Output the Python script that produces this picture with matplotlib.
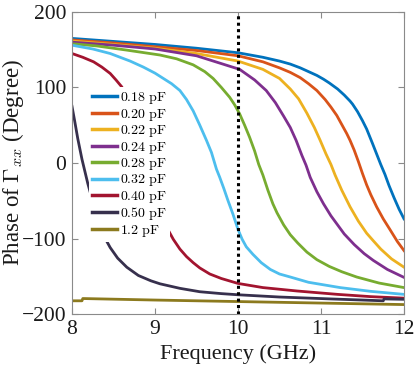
import matplotlib
matplotlib.use("Agg")
import matplotlib.pyplot as plt

plt.rcParams['mathtext.fontset'] = 'cm'
plt.rcParams['font.family'] = ['Liberation Serif', 'DejaVu Serif']

labels = ['0.18 pF', '0.20 pF', '0.22 pF', '0.24 pF', '0.28 pF',
          '0.32 pF', '0.40 pF', '0.50 pF', '1.2 pF']
colors = ['#0072BD', '#D95319', '#EDB120', '#7E2F8E', '#77AC30',
          '#4DBEEE', '#A2142F', '#37304d', '#8c7a1e']

f_018 = [8.0, 8.5, 9.0, 9.5, 10.0, 10.3, 10.5, 10.63, 10.75, 10.85, 10.95, 11.03, 11.1, 11.2, 11.28, 11.35, 11.38, 11.44, 11.5, 11.55, 11.62, 11.67, 11.72, 11.77, 11.82, 11.88, 11.94, 12.0]
p_018 = [165, 161, 157, 152, 146, 140, 135, 131, 126, 121, 116, 111, 106, 98, 90, 82, 78, 68, 56, 45, 26, 12, -2, -15, -30, -46, -61, -74]

f_020 = [8.0, 8.5, 9.0, 9.5, 10.0, 10.3, 10.5, 10.63, 10.75, 10.85, 10.95, 11.05, 11.12, 11.19, 11.27, 11.31, 11.35, 11.4, 11.45, 11.5, 11.55, 11.6, 11.67, 11.75, 11.83, 11.92, 12.0]
p_020 = [163, 159, 154, 149, 142, 134, 126, 120, 113, 105, 96, 84, 74, 63, 47, 39, 30, 17, 2, -14, -29, -42, -58, -74, -88, -104, -116]

f_022 = [8.0, 8.5, 9.0, 9.5, 10.0, 10.3, 10.5, 10.63, 10.73, 10.83, 10.92, 10.99, 11.06, 11.12, 11.17, 11.25, 11.35, 11.45, 11.55, 11.63, 11.72, 11.85, 12.0]
p_022 = [161.5, 157, 152, 145, 135, 124, 112, 98, 85, 66, 47, 30, 12, -2, -16, -36, -58, -77, -93, -103, -114, -127, -138]

f_024 = [8.0, 8.5, 9.0, 9.5, 10.02, 10.2, 10.34, 10.45, 10.55, 10.63, 10.7, 10.77, 10.82, 10.87, 10.95, 11.03, 11.12, 11.2, 11.28, 11.4, 11.52, 11.63, 11.8, 12.0]
p_024 = [160, 156, 151, 142, 124, 110, 96, 80, 62, 47, 30, 10, -3, -19, -38, -54, -70, -82, -94, -108, -120, -129, -141, -151.5]

f_028 = [8.0, 8.3, 8.66, 9.06, 9.26, 9.46, 9.6, 9.7, 9.8, 9.9, 9.96, 10.02, 10.08, 10.14, 10.2, 10.25, 10.3, 10.36, 10.42, 10.47, 10.55, 10.63, 10.72, 10.83, 10.95, 11.1, 11.25, 11.43, 11.7, 12.0]
p_028 = [158, 155, 149.5, 143, 138, 130, 121, 112, 100, 87, 77, 65, 50, 34, 16, -2, -16, -36, -54, -66, -82, -95, -106, -118, -128, -137, -144, -151, -159, -165]

f_032 = [8.0, 8.25, 8.46, 8.7, 8.86, 9.0, 9.1, 9.2, 9.3, 9.38, 9.46, 9.54, 9.62, 9.68, 9.74, 9.78, 9.83, 9.88, 9.94, 10.0, 10.05, 10.1, 10.18, 10.28, 10.39, 10.5, 10.63, 10.85, 11.23, 11.6, 12.0]
p_032 = [156, 151, 145, 135, 127, 119, 112, 105, 96, 84, 69, 50, 30, 14, -8, -19, -34, -50, -68, -88, -101, -111, -121, -132, -141, -147, -151, -158, -165, -170, -174]

f_040 = [8.0, 8.13, 8.26, 8.36, 8.46, 8.53, 8.6, 8.7, 8.8, 8.9, 9.0, 9.07, 9.14, 9.22, 9.3, 9.38, 9.46, 9.54, 9.66, 9.8, 10.0, 10.3, 10.71, 11.2, 11.6, 12.0]
p_040 = [145, 140, 134, 127, 118.6, 110, 100.8, 80, 45, 0, -45, -68, -85, -101, -114, -124, -132, -139, -147, -153, -159.5, -165, -169.5, -174, -177, -179]

f_050 = [8.0, 8.03, 8.07, 8.12, 8.19, 8.26, 8.33, 8.4, 8.46, 8.55, 8.66, 8.8, 8.95, 9.06, 9.3, 9.54, 9.8, 10.0, 10.5, 11.11, 11.5, 11.75, 11.76, 12.0]
p_050 = [75, 57, 32, 5, -27, -55, -80, -100, -112, -126, -138, -149, -156, -160, -166, -170.5, -173, -174.5, -177.5, -180, -181.5, -182.5, -180, -180.5]

f_120 = [8.0, 8.12, 8.13, 9.0, 10.0, 11.0, 12.0]
p_120 = [-182.5, -182.5, -179.5, -181.5, -183.5, -185.5, -187.5]

freqs = [f_018, f_020, f_022, f_024, f_028, f_032, f_040, f_050, f_120]
phases = [p_018, p_020, p_022, p_024, p_028, p_032, p_040, p_050, p_120]

marker_freq = 10

fig = plt.figure(figsize=(4.15, 3.71), dpi=100)
ax = fig.add_axes([0.1735, 0.1536, 0.8, 0.8141])

for f, p, c, lab in zip(freqs, phases, colors, labels):
    num, unit = lab.split(' ')
    ax.plot(f, p, color=c, lw=2.0, label=r'$%s\ \mathrm{%s}$' % (num, unit),
            solid_joinstyle='round')

ax.axvline(marker_freq, color='black', lw=2.2, ls=(0, (1, 1.1)))

ax.set_xlim(8, 12)
ax.set_ylim(-200, 200)
ax.set_xticks([8, 9, 10, 11, 12])
ax.set_yticks([-200, -100, 0, 100, 200])
ax.tick_params(direction='in', top=True, right=True, length=4, width=0.8,
               colors='#8a8a8a', labelcolor='#1a1a1a', labelsize=15.5, pad=4)
for s in ax.spines.values():
    s.set_color('#8a8a8a')
    s.set_linewidth(0.8)

ax.set_xlabel('Frequency (GHz)', fontsize=16, color='#1a1a1a', labelpad=4)
fig.text(13 / 415, 1 - 163 / 371, r'Phase of $\Gamma_{xx}$ (Degree)', fontsize=16.5,
         color='#1a1a1a', rotation=90, ha='center', va='center')

leg = ax.legend(loc='upper left', bbox_to_anchor=(0.05, 0.752), fontsize=10,
                frameon=True, framealpha=1.0, edgecolor='none', fancybox=False,
                handlelength=1.8, handletextpad=0.2, labelspacing=0.03,
                borderpad=0.25, borderaxespad=0)
for line in leg.get_lines():
    line.set_linewidth(2.5)

fig.savefig('out.png', dpi=100)
